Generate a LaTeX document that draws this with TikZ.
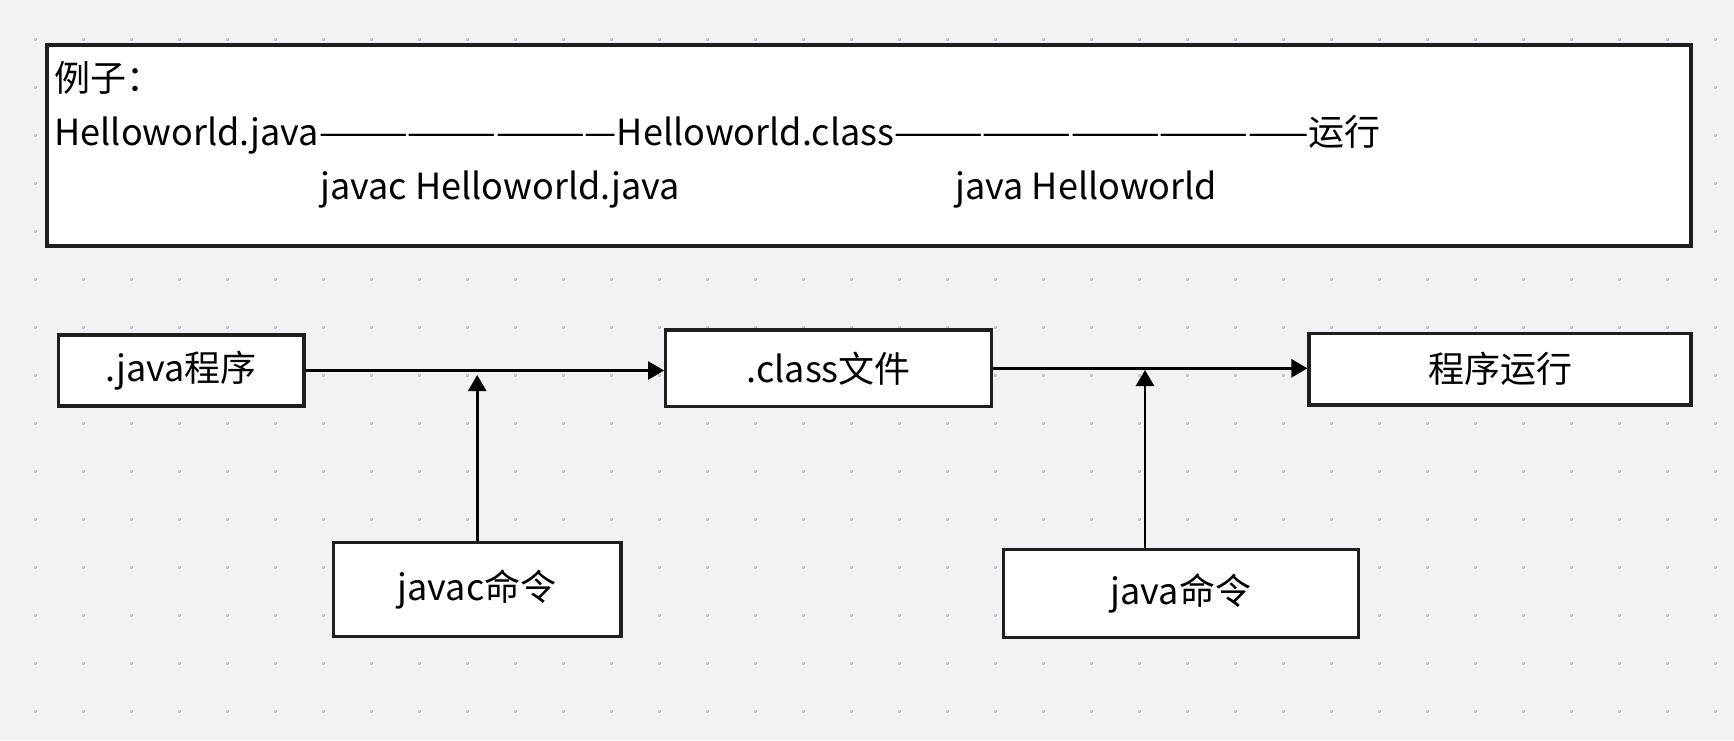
\documentclass[tikz,border=0pt]{standalone}
\usepackage{fontspec}
\setmainfont{Noto Sans CJK SC}
\usetikzlibrary{arrows.meta,positioning}
\definecolor{CanvasGray}{HTML}{F2F2F4}
\definecolor{DotGray}{HTML}{C9C9CD}
\definecolor{InkBlack}{HTML}{1F1F1F}

\begin{document}
\begin{tikzpicture}[x=0.5pt,y=-0.5pt, every node/.style={font=\fontsize{18pt}{23pt}\selectfont}]
    \tikzset{box/.style={draw=InkBlack,fill=white,line width=1.6pt,inner sep=0pt,align=center},
      flow/.style={-{Triangle[length=8pt,width=9pt]},line width=1.3pt,black},
      txt/.style={inner sep=0pt,anchor=base west}}
    \fill[CanvasGray] (0,0) rectangle (1734,740);
    \useasboundingbox (0,0) rectangle (1734,740);
    \foreach \i in {0,...,35}{\foreach \j in {0,...,14}{
      \fill[DotGray] (34.2+48*\i,38.2+48*\j) rectangle ++(3,3);}}
    % example box
    \node[box,minimum width=822pt,minimum height=100.5pt] (ex) at (869,145.5) {};
    \node[txt] (l1) at (54,91) {例子：};
    \node[txt] (l2) at (54,145) {Helloworld.java——————————Helloworld.class——————————————运行};
    \node[txt] (l3a) at (320,199) {javac Helloworld.java};
    \node[txt] (l3b) at (955,199) {java Helloworld};
    % flow
    \node[box,minimum width=122.85pt,minimum height=35.5pt] (src) at (181.2,370.5) {.java程序};
    \node[box,minimum width=163pt,minimum height=38.35pt] (cls) at (828.7,368.3) {.class文件};
    \node[box,minimum width=191pt,minimum height=35.85pt] (run) at (1500,369.2) {程序运行};
    \node[box,minimum width=143.85pt,minimum height=47.2pt] (jc) at (477.2,589.5) {javac命令};
    \node[box,minimum width=177.5pt,minimum height=44pt] (jv) at (1180.8,593.3) {java命令};
    \coordinate (m1) at (477.2,375);
    \coordinate (m2) at (1145,370);
    \draw[flow] (src.east) -- (src.east -| cls.west);
    \draw[flow] (cls.east) -- (cls.east -| run.west);
    \draw[flow] (jc.north) -- (m1);
    \draw[flow] (jv.north -| m2) -- (m2);
  \end{tikzpicture}
\end{document}
